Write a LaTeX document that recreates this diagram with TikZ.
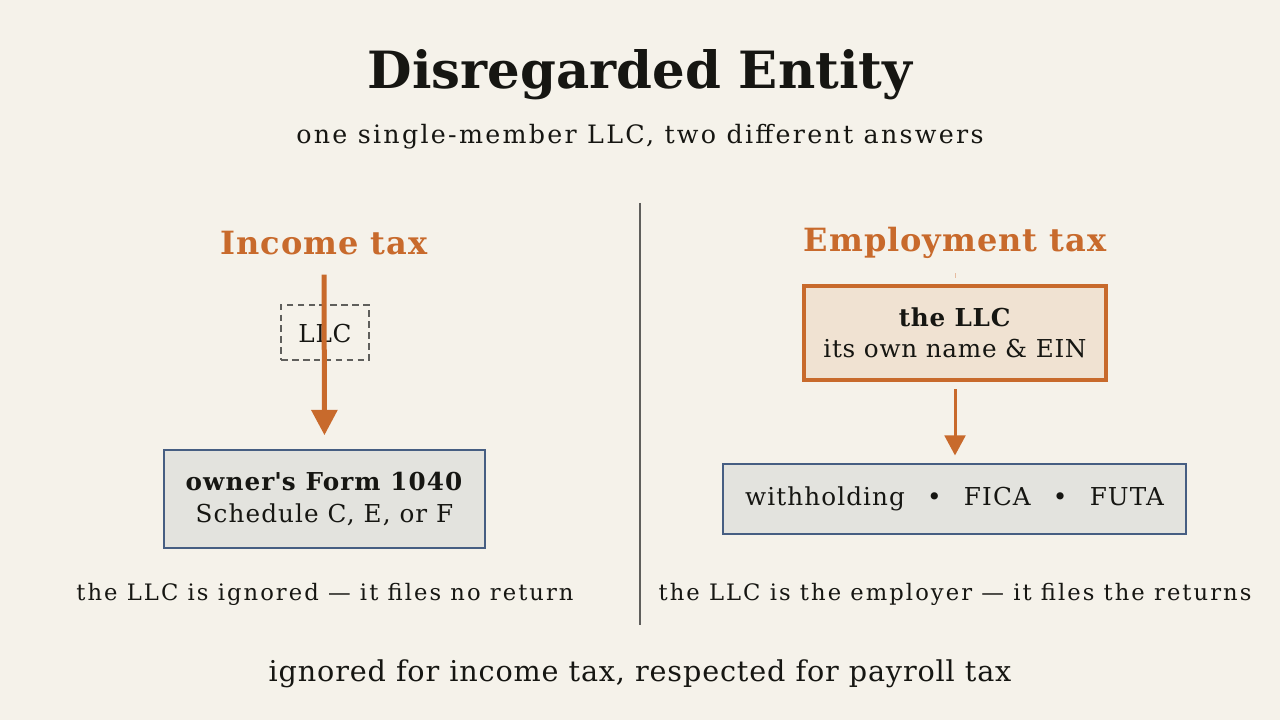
\documentclass[tikz,border=0pt]{standalone}
\usepackage{fontspec}
\setmainfont{DejaVu Serif}
\newfontfamily\widefont[LetterSpace=9]{DejaVu Serif}
\newfontfamily\loosefont[LetterSpace=3]{DejaVu Serif}
\newfontfamily\boxfont[LetterSpace=4.5]{DejaVu Serif}
\usetikzlibrary{arrows.meta}
\definecolor{bgcol}{RGB}{245,242,234}
\definecolor{inkcol}{RGB}{22,22,18}
\definecolor{rustcol}{RGB}{200,106,44}
\definecolor{slatecol}{RGB}{70,94,130}
\definecolor{greyfill}{RGB}{227,227,222}
\definecolor{sandfill}{RGB}{240,226,210}
\definecolor{rulecol}{RGB}{95,95,92}

\begin{document}
\begin{tikzpicture}[x=0.75pt,y=0.75pt,yscale=-1,xscale=1,
    txt/.style={inner sep=0pt,text=inkcol,align=center,anchor=base},
    head/.style={txt,text=rustcol,font=\loosefont\fontsize{24}{28}\selectfont\bfseries},
    sidenote/.style={txt,font=\widefont\fontsize{17}{20}\selectfont},
    taxbox/.style={draw=slatecol,line width=2.2pt,fill=greyfill,inner sep=0pt,text=inkcol,align=center,font=\boxfont\fontsize{18.5}{24}\selectfont},
    flow/.style={draw=rustcol,-{Triangle[width=15.5pt,length=15pt]}}]
        %Shape: Rectangle [background]
        \fill [bgcol] (0,0) rectangle (1280,720) ;

        % Text Node
        \node [txt,font=\fontsize{38.5}{42}\selectfont\bfseries] (title) at (640,89) {Disregarded Entity};
        % Text Node
        \node [txt,font=\widefont\fontsize{19}{24}\selectfont] (subtitle) at (640,143.5) {one single-member LLC, two different answers};

        %Straight Lines [divider]
        \coordinate (divtop) at (640,203) ;
        \coordinate (divbot) at (640,625) ;
        \draw [rulecol,line width=1.1pt] (divtop) -- (divbot) ;

        % Text Node
        \node [head] (inchd) at (324,254) {Income tax};
        %Shape: Rectangle [dashed llc]
        \node [draw=rulecol,line width=1.75pt,dash pattern=on 5pt off 3.2pt,minimum width=66pt,minimum height=41.25pt,inner sep=0pt] (ghost) at (325,332.5) {};
        \node [txt,font=\loosefont\fontsize{18.5}{22}\selectfont] (ghosttxt) at (325,342.5) {LLC};
        %Shape: Rectangle [owner]
        \node [taxbox,minimum width=240.75pt,minimum height=73.5pt] (owner) at (324.5,499) {\textbf{owner\textquotesingle s Form 1040}\\Schedule C, E, or F};
        %Straight Lines [income flow]
        \draw [flow,line width=3.75pt,-{Triangle[width=19pt,length=19pt]},shorten <=15pt,shorten >=10pt] (inchd.south) -- (owner.north) ;
        % Text Node
        \node [sidenote] (inccap) at (325,600) {the LLC is ignored — it files no return};

        % Text Node
        \node [head] (emphd) at (955,252) {Employment tax};
        %Straight Lines [tick]
        \coordinate (tick) at (955,273) ;
        \draw [rustcol!45,line width=0.6pt] (tick) -- ++(0,5) ;
        %Shape: Rectangle [the llc]
        \node [draw=rustcol,line width=2.5pt,fill=sandfill,inner sep=0pt,text=inkcol,align=center,font=\loosefont\fontsize{18.5}{23}\selectfont,minimum width=226.5pt,minimum height=70.5pt] (llc) at (955,333) {\textbf{the LLC}\\its own name \& EIN};
        %Shape: Rectangle [payroll]
        \node [taxbox,minimum width=347.25pt,minimum height=52.5pt] (payroll) at (954.5,499) {withholding\hspace{0.9em}•\hspace{0.9em}FICA\hspace{0.9em}•\hspace{0.9em}FUTA};
        %Straight Lines [employment flow]
        \draw [flow,line width=2.25pt,shorten <=5.8pt,shorten >=5.3pt] (llc.south) -- (llc.south |- payroll.north) ;
        % Text Node
        \node [sidenote] (empcap) at (955,600) {the LLC is the employer — it files the returns};

        % Text Node
        \node [txt,font=\loosefont\fontsize{21.5}{26}\selectfont] (footer) at (640,681.5) {ignored for income tax, respected for payroll tax};
\end{tikzpicture}
\end{document}
